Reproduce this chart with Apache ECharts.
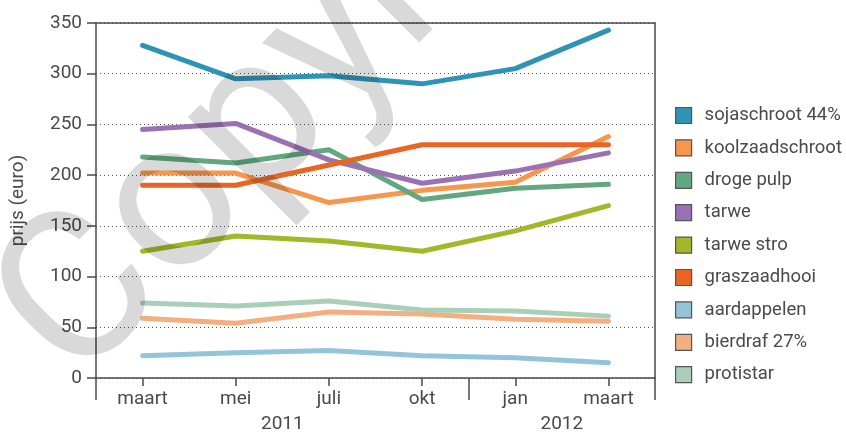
<!DOCTYPE html>
<html>
<head>
<meta charset="utf-8">
<script src="https://cdn.jsdelivr.net/npm/echarts@6/dist/echarts.min.js"></script>
<style>
  html, body { margin: 0; padding: 0; background: #ffffff; }
  #chart { width: 846px; height: 434px; }
</style>
</head>
<body>
<div id="chart"></div>
<script>
// categorieen (maanden) en jaren
var maanden = ["maart", "mei", "juli", "okt", "jan", "maart"];
var jaren = ["2011", "2012"];
var yTicks = [0, 50, 100, 150, 200, 250, 300, 350];

// prijzen per product (euro)
var sojaschroot = [328, 295, 298, 290, 305, 343];
var koolzaadschroot = [202, 202, 173, 185, 193, 238];
var drogePulp = [218, 212, 225, 176, 187, 191];
var tarwe = [245, 251, 215, 192, 204, 222];
var tarweStro = [125, 140, 135, 125, 145, 170];
var graszaadhooi = [190, 190, 210, 230, 230, 230];
var aardappelen = [22, 25, 27, 22, 20, 15];
var bierdraf = [59, 54, 65, 63, 58, 56];
var protistar = [74, 71, 76, 67, 66, 61];

var namen = ["sojaschroot 44%", "koolzaadschroot", "droge pulp", "tarwe", "tarwe stro",
  "graszaadhooi", "aardappelen", "bierdraf 27%", "protistar"];
var reeksen = [sojaschroot, koolzaadschroot, drogePulp, tarwe, tarweStro,
  graszaadhooi, aardappelen, bierdraf, protistar];
var kleuren = ["#2f93b4", "#f7974e", "#62a780", "#9a71b2", "#a2b72a",
  "#e86526", "#94c4da", "#f3ae82", "#a9cfb8"];

var asKleur = "#4a4a4a";
var tekstKleur = "#4a4a4a";
var font = "Roboto";

var myChart = echarts.init(document.getElementById("chart"));

var series = [];
for (var i = 0; i < namen.length; i++) {
  series.push({
    name: namen[i],
    type: "line",
    data: reeksen[i],
    xAxisIndex: 0,
    yAxisIndex: 0,
    symbol: "none",
    color: kleuren[i],
    lineStyle: { width: 5, color: kleuren[i], cap: "round", join: "round" },
    z: 3
  });
}

myChart.setOption({
  animation: false,
  backgroundColor: "#ffffff",
  textStyle: { fontFamily: font },
  grid: { left: 96, right: 191, top: 23, bottom: 54 },
  legend: {
    orient: "vertical",
    left: 670,
    top: 101,
    icon: "rect",
    itemWidth: 16,
    itemHeight: 16,
    itemGap: 13.4,
    data: namen,
    itemStyle: { borderColor: "#555555", borderWidth: 1.2 },
    textStyle: { fontFamily: font, fontSize: 18.5, color: tekstKleur, padding: [0, 0, 0, 8] }
  },
  xAxis: [
    {
      type: "category",
      position: "bottom",
      data: maanden,
      boundaryGap: true,
      axisLine: { show: true, lineStyle: { color: asKleur, width: 1.5 } },
      axisTick: { show: true, alignWithLabel: true, length: 8, lineStyle: { color: asKleur, width: 1.5 } },
      axisLabel: { fontFamily: font, fontSize: 19, color: tekstKleur, margin: 12 },
      splitLine: { show: false }
    },
    {
      // jaartallen en lange streepjes tussen de jaren
      type: "value",
      position: "bottom",
      min: 0,
      max: 6,
      axisLine: { show: false },
      axisTick: { show: true, customValues: [0, 4, 6], length: 22, lineStyle: { color: asKleur, width: 1.5 } },
      axisLabel: {
        customValues: [2, 5],
        fontFamily: font, fontSize: 19, color: tekstKleur, margin: 37,
        formatter: function (v) { return v === 2 ? jaren[0] : jaren[1]; }
      },
      splitLine: { show: false }
    },
    {
      type: "category",
      position: "top",
      data: maanden,
      axisLine: { show: true, lineStyle: { color: asKleur, width: 1.5 } },
      axisTick: { show: false },
      axisLabel: { show: false },
      splitLine: { show: false }
    }
  ],
  yAxis: [
    {
      type: "value",
      min: yTicks[0],
      max: yTicks[yTicks.length - 1],
      interval: 50,
      name: "prijs (euro)",
      nameLocation: "middle",
      nameGap: 68,
      nameTextStyle: { fontFamily: font, fontSize: 19, color: tekstKleur },
      axisLine: { show: true, lineStyle: { color: asKleur, width: 1.5 } },
      axisTick: { show: true, length: 9, lineStyle: { color: asKleur, width: 1.5 } },
      axisLabel: { fontFamily: font, fontSize: 19, color: tekstKleur, margin: 14 },
      splitLine: { show: true, lineStyle: { color: "#555555", width: 1, type: [1, 3] } }
    },
    {
      type: "value",
      position: "right",
      min: 0,
      max: 350,
      axisLine: { show: true, lineStyle: { color: asKleur, width: 1.5 } },
      axisTick: { show: false },
      axisLabel: { show: false },
      splitLine: { show: false }
    }
  ],
  graphic: [
    {
      // watermerk
      type: "text",
      x: 112,
      y: 424,
      rotation: 45 * Math.PI / 180,
      z: 100,
      silent: true,
      style: {
        text: "Copyright",
        font: "210px Roboto",
        fill: "rgba(0,0,0,0.15)",
        textAlign: "left",
        textVerticalAlign: "bottom"
      }
    }
  ],
  series: series
});
</script>
</body>
</html>
